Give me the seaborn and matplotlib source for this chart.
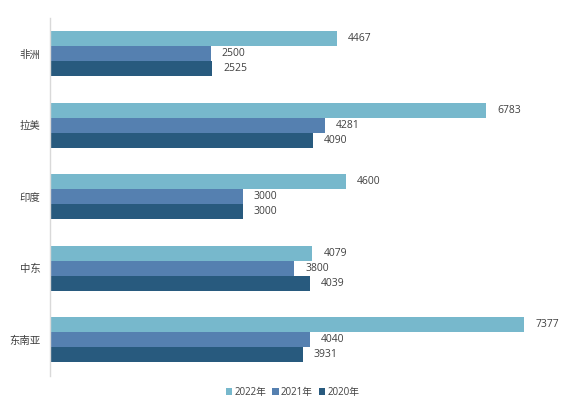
import pandas as pd
import seaborn as sns
import matplotlib.pyplot as plt

regions = ["非洲", "拉美", "印度", "中东", "东南亚"]
years = ["2022年", "2021年", "2020年"]
v2022 = [4467, 6783, 4600, 4079, 7377]
v2021 = [2500, 4281, 3000, 3800, 4040]
v2020 = [2525, 4090, 3000, 4039, 3931]

df = pd.DataFrame({
    "region": regions * 3,
    "year": [years[0]] * 5 + [years[1]] * 5 + [years[2]] * 5,
    "value": v2022 + v2021 + v2020,
})

sns.set_theme(style="white")
plt.rcParams["font.family"] = ["Open Sans", "Noto Sans CJK SC", "DejaVu Sans"]

colors = ["#77b8cc", "#5580b0", "#285a7e"]
fig = plt.figure(figsize=(5.85, 4.12), dpi=100)
ax = fig.add_axes([0.0855, 0.088, 0.879, 0.869])

sns.barplot(data=df, y="region", x="value", hue="year", hue_order=years,
            order=regions, palette=colors, orient="h", width=0.63,
            saturation=1, linewidth=0, ax=ax, legend=True)

for c in ax.containers:
    ax.bar_label(c, fmt="%d", padding=8, fontsize=7.5, color="#404040")

ax.set_xlim(0, 8000)
ax.set_ylim(4.5, -0.5)
ax.set_xlabel("")
ax.set_ylabel("")
ax.set_xticks([])
ax.tick_params(axis="y", length=0, pad=7, labelsize=7.5, labelcolor="#404040")
for s in ["top", "right", "bottom"]:
    ax.spines[s].set_visible(False)
ax.spines["left"].set_color("#d9d9d9")
ax.spines["left"].set_linewidth(1)

h, l = ax.get_legend_handles_labels()
ax.legend_.remove()
fig.legend(h, l, loc="center", bbox_to_anchor=(0.5, 0.048), ncol=3,
           frameon=False, fontsize=7, handlelength=0.7, handleheight=0.7,
           handletextpad=0.2, columnspacing=0.6, labelcolor="#404040")

fig.savefig("out.png", dpi=100)
